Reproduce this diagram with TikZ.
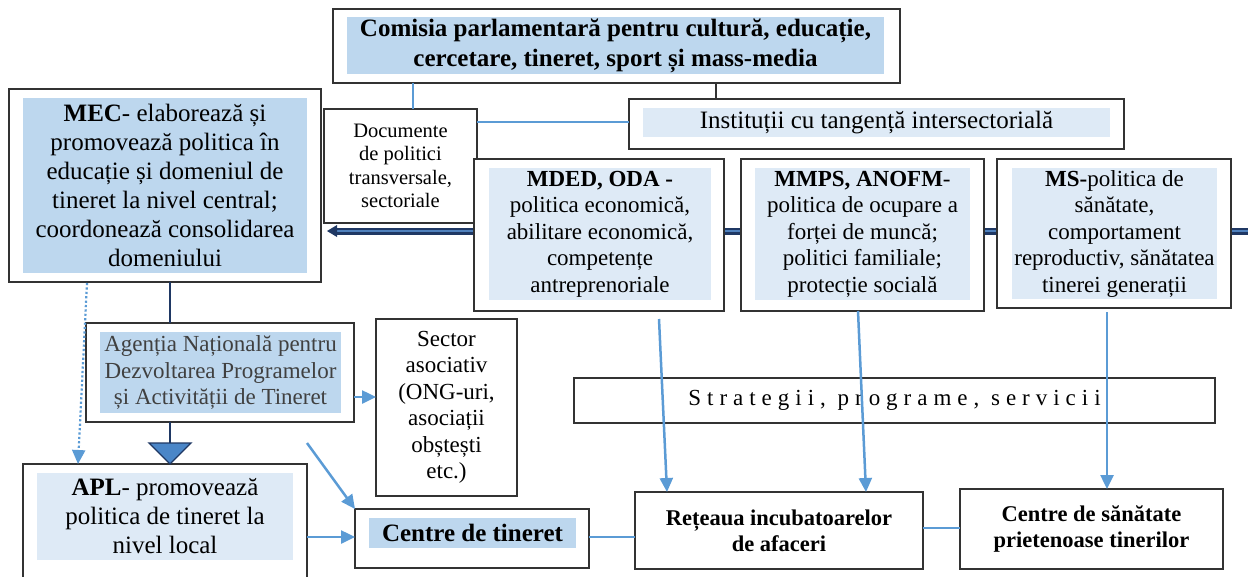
\documentclass[tikz,border=0pt]{standalone}
\usepackage{fontspec}
\setmainfont{Liberation Serif}
\usetikzlibrary{arrows.meta,calc}
\definecolor{fillA}{HTML}{BDD7EE}
\definecolor{fillB}{HTML}{DEEAF6}
\definecolor{ablue}{HTML}{5B9BD5}
\definecolor{navy}{HTML}{1F3864}
\definecolor{midblue}{HTML}{4F81BD}
\definecolor{trifill}{HTML}{4A86C8}
\definecolor{boxline}{HTML}{333333}
\tikzset{
  obox/.style={draw=boxline, line width=1.4pt, fill=white, anchor=north west, inner sep=0pt, outer sep=0pt},
  ibox/.style={anchor=north west, inner sep=0pt, outer sep=0pt, align=center},
  barrow/.style={draw=ablue, line width=2.5pt, -{Triangle[width=13pt,length=14pt]}},
  bline/.style={draw=ablue, line width=1.3pt},
  nline/.style={draw=navy, line width=2.2pt},
  fs25/.style={font=\fontsize{25}{29}\selectfont},
  fs23/.style={font=\fontsize{23}{26.5}\selectfont},
  fs20/.style={font=\fontsize{20.5}{23.5}\selectfont},
}
\begin{document}
\begin{tikzpicture}[x=1pt,y=-1pt]
\useasboundingbox (0,0) rectangle (1248,576);
\clip (0,0) rectangle (1248,576);

% double arrow behind the ministry boxes
\coordinate (dstart) at (1250,231);
\coordinate (dtip) at (327,231);
\draw[navy, line width=7pt] (dstart) -- ($(dtip)+(7,0)$);
\draw[midblue, line width=2.6pt] (dstart) -- ($(dtip)+(7,0)$);
\fill[navy] (dtip) -- ++(10,-6) -- ++(0,12) -- cycle;

% Comisia
\node[obox, minimum width=567pt, minimum height=74pt] (com) at (333,9) {};
\node[ibox, fill=fillA, minimum width=537pt, minimum height=57pt, font=\bfseries\fontsize{25}{30}\selectfont] (comf) at (347,17)
  {Comisia parlamentară pentru cultură, educație,\\cercetare, tineret, sport și mass-media};

% Instituții
\node[obox, minimum width=495pt, minimum height=50pt] (inst) at (629,99) {};
\node[ibox, fill=fillB, minimum width=467pt, minimum height=29pt, fs25] (instf) at (643,108)
  {Instituții cu tangență intersectorială};

% Documente
\node[obox, minimum width=153pt, minimum height=114pt, align=center, fs20] (doc) at (324,109)
  {Documente\\de politici\\transversale,\\sectoriale};

% MEC
\node[obox, minimum width=312pt, minimum height=193pt] (mec) at (9,89) {};
\node[ibox, fill=fillA, minimum width=284pt, minimum height=175pt, fs25] (mecf) at (23,98)
  {\textbf{MEC}- elaborează și\\promovează politica în\\educație și domeniul de\\tineret la nivel central;\\coordonează consolidarea\\domeniului};

% MDED
\node[obox, minimum width=250pt, minimum height=152pt] (mded) at (474,159) {};
\node[ibox, fill=fillB, minimum width=222pt, minimum height=132pt, fs23] (mdedf) at (489,168)
  {\textbf{MDED, ODA -}\\politica economică,\\abilitare economică,\\competențe\\antreprenoriale};

% MMPS
\node[obox, minimum width=243pt, minimum height=152pt] (mmps) at (741,159) {};
\node[ibox, fill=fillB, minimum width=215pt, minimum height=132pt, fs23] (mmpsf) at (755,168)
  {\textbf{MMPS, ANOFM}-\\politica de ocupare a\\forței de muncă;\\politici familiale;\\protecție socială};

% MS
\node[obox, minimum width=234pt, minimum height=149pt] (ms) at (997,159) {};
\node[ibox, fill=fillB, minimum width=205pt, minimum height=131pt, fs23] (msf) at (1012,168)
  {\textbf{MS-}politica de\\sănătate,\\comportament\\reproductiv, sănătatea\\tinerei generații};

% Agenția
\node[obox, minimum width=268pt, minimum height=99pt] (agen) at (86,323) {};
\node[ibox, fill=fillA, minimum width=241pt, minimum height=81pt, fs23, text=black!75] (agenf) at (100,332)
  {Agenția Națională pentru\\Dezvoltarea Programelor\\și Activității de Tineret};

% Sector asociativ
\node[obox, minimum width=141pt, minimum height=177pt, align=center, fs23] (sect) at (376,319)
  {Sector\\asociativ\\(ONG-uri,\\asociații\\obștești\\etc.)};

% APL
\node[obox, minimum width=284pt, minimum height=140pt] (apl) at (23,464) {};
\node[ibox, fill=fillB, minimum width=256pt, minimum height=87pt, fs25] (aplf) at (37,473)
  {\textbf{APL}- promovează\\politica de tineret la\\nivel local};

% Centre de tineret
\node[obox, minimum width=234pt, minimum height=59pt] (ctin) at (355,509) {};
\node[ibox, fill=fillA, minimum width=207pt, minimum height=30pt, font=\bfseries\fontsize{25}{29}\selectfont] (ctinf) at (369,518)
  {Centre de tineret};

% Strategii
\node[obox, minimum width=641pt, minimum height=45pt, font=\fontsize{23}{26}\selectfont\addfontfeature{LetterSpace=26}] (strat) at (574,378)
  {Strategii, programe, servicii};

% Rețeaua
\node[obox, minimum width=288pt, minimum height=77pt, align=center, font=\bfseries\fontsize{22.5}{26}\selectfont] (rete) at (635,492)
  {Rețeaua incubatoarelor\\de afaceri};

% Centre de sănătate
\node[obox, minimum width=263pt, minimum height=80pt, align=center, font=\bfseries\fontsize{22.5}{25.5}\selectfont] (csan) at (960,489)
  {Centre de sănătate\\prietenoase tinerilor};

% connectors at top
\draw[draw=boxline, line width=1.4pt] (com.south -| 716,0) -- (inst.north -| 716,0);
\draw[bline] (com.south -| 413,0) -- (doc.north -| 413,0);
\draw[bline] (doc.east |- 0,122) -- (inst.west |- 0,122);

% MEC - Agenția - APL
\draw[nline] (mec.south -| 170,0) -- (agen.north -| 170,0);
\coordinate (tritop) at (170,443);
\draw[nline] (agen.south -| 170,0) -- (tritop);
\draw[navy, line width=1.3pt, fill=trifill] (149,443) -- (191,443) -- (apl.north -| 170,0) -- cycle;
\coordinate (dotstart) at (87,283);
\draw[draw=ablue, line width=2.2pt, dash pattern=on 2.2pt off 2.2pt, -{Triangle[width=13pt,length=14pt]}] (dotstart) -- (apl.north -| 78,0);

% blue arrows
\draw[barrow] (agen.east |- 0,397) -- (sect.west |- 0,397);
\coordinate (freestart) at (307,443);
\draw[barrow] (freestart) -- (ctin.north west);
\draw[barrow] (apl.east |- 0,537) -- (ctin.west |- 0,537);
\draw[bline] (ctin.east |- 0,537) -- (rete.west |- 0,537);
\draw[bline] (rete.east |- 0,528) -- (csan.west |- 0,528);

\coordinate (s1) at (659,319);
\coordinate (s2) at (858,311);
\coordinate (s3) at (1107,312);
\draw[barrow] (s1) -- (rete.north -| 667,0);
\draw[barrow] (s2) -- (rete.north -| 866,0);
\draw[barrow] (s3) -- (csan.north -| 1107,0);
\end{tikzpicture}
\end{document}
